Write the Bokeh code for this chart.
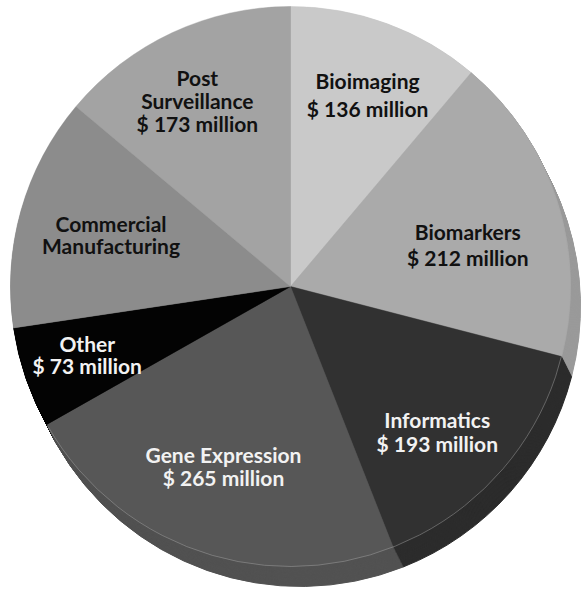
import numpy as np
from bokeh.plotting import figure
from bokeh.models import Range1d, ColumnDataSource
from bokeh.embed import file_html
from bokeh.resources import INLINE
from bokeh.core.properties import value

# ---------------- data ----------------
segments = ["Bioimaging", "Biomarkers", "Informatics", "Gene Expression",
            "Other", "Commercial\nManufacturing", "Post\nSurveillance"]
revenue_musd = [136, 212, 193, 265, 73, None, 173]          # $ million, as labelled
slice_deg = [40.2, 64.3, 54.0, 82.0, 21.0, 48.5, 50.0]     # slice sizes as drawn

# ---------------- style / layout ----------------
top_colors = ["#c9c9c9", "#aaaaaa", "#313131", "#575757", "#030303", "#8c8c8c", "#a3a3a3"]
side_colors = ["#b8b8b8", "#9a9a9a", "#2c2c2c", "#525252", "#000000", "#7f7f7f", "#959595"]
text_colors = ["#111111", "#111111", "#f2f2f2", "#f2f2f2", "#f2f2f2", "#111111", "#111111"]
label_r = [206.7, 182.2, 206.3, 191.8, 214.4, 186.8, 208.0]   # px from centre
label_turn = [-1.8, -4.35, -3.15, -0.95, -0.45, -0.35, 1.6]    # deg from slice middle
line_gap = [28.3, 26.7, 23.3, 23.3, 21.7, 21.7, 23.3]

W, H = 587, 589
CX, CY, R = 290.0, H - 286.0, 280.0   # top face centre (data units == px)
DX, DY, NSTEP = 10.0, 20.0, 24        # extrusion of the 3-D side

p = figure(width=W, height=H, x_range=Range1d(0, W), y_range=Range1d(0, H),
           output_backend="svg", toolbar_location=None, min_border=0)
p.axis.visible = False
p.grid.visible = False
p.outline_line_color = None
p.background_fill_color = "white"
p.border_fill_color = "white"

deg = np.array(slice_deg)
cum_end = np.cumsum(deg)
cum_start = cum_end - deg
start = np.radians(90 - cum_start)
end = np.radians(90 - cum_end)

# side (stacked offset copies)
sx, sy, ss, se, sc = [], [], [], [], []
for k in range(NSTEP, 0, -1):
    for i in range(len(deg)):
        sx.append(CX + DX * k / NSTEP)
        sy.append(CY - DY * k / NSTEP)
        ss.append(start[i]); se.append(end[i]); sc.append(side_colors[i])
p.wedge(x="x", y="y", radius=R, start_angle="s", end_angle="e", direction="clock",
        fill_color="c", line_color="c", line_width=1,
        source=ColumnDataSource(dict(x=sx, y=sy, s=ss, e=se, c=sc)))

# top face
p.wedge(x=CX, y=CY, radius=R, start_angle=start, end_angle=end, direction="clock",
        fill_color=top_colors, line_color=top_colors, line_width=0.5)

# faint rim between top face and side
p.arc(x=CX, y=CY, radius=R, start_angle=np.radians(-150), end_angle=np.radians(25),
      line_color="#a8a8a8", line_alpha=0.45, line_width=1)

# labels
tx, ty, tt, tc = [], [], [], []
mid = 90 - (cum_start + deg / 2)
for i, name in enumerate(segments):
    lines = name.split("\n")
    if revenue_musd[i] is not None:
        lines.append(f"$ {revenue_musd[i]} million")
    a = np.radians(mid[i] + label_turn[i])
    rx = CX + label_r[i] * np.cos(a)
    ry = CY + label_r[i] * np.sin(a)
    n = len(lines)
    for j, ln in enumerate(lines):
        tx.append(rx)
        ty.append(ry + (n - 1) / 2 * line_gap[i] - j * line_gap[i])
        tt.append(ln)
        tc.append(text_colors[i])
p.text(x=tx, y=ty, text=tt, text_color=tc, text_font=value("Lato"),
       text_font_style="bold", text_font_size="21px",
       text_align="center", text_baseline="alphabetic")

open("out.html", "w").write(file_html(p, INLINE))
